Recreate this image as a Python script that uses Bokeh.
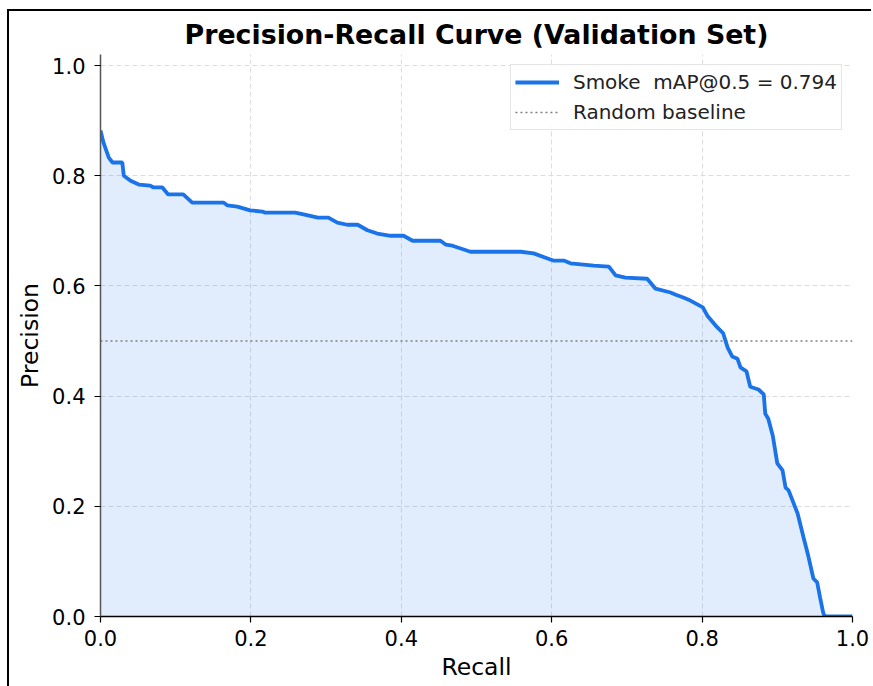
from bokeh.plotting import figure
from bokeh.layouts import column
from bokeh.models import Range1d, FixedTicker, NumeralTickFormatter, Legend, LegendItem
from bokeh.embed import file_html
from bokeh.resources import INLINE

# Data
recall = [0.000, 0.004, 0.011, 0.016, 0.029, 0.031, 0.040, 0.051, 0.066, 0.070,
          0.082, 0.090, 0.110, 0.122, 0.164, 0.169, 0.182, 0.199, 0.215, 0.219,
          0.259, 0.270, 0.289, 0.303, 0.315, 0.328, 0.342, 0.355, 0.368, 0.386,
          0.403, 0.415, 0.452, 0.459, 0.468, 0.479, 0.492, 0.559, 0.576, 0.602,
          0.616, 0.625, 0.656, 0.676, 0.685, 0.698, 0.727, 0.738, 0.758, 0.765,
          0.775, 0.782, 0.801, 0.807, 0.818, 0.828, 0.834, 0.840, 0.847, 0.851,
          0.859, 0.864, 0.875, 0.882, 0.884, 0.888, 0.894, 0.900, 0.907, 0.911,
          0.915, 0.927, 0.935, 0.941, 0.948, 0.953, 0.957, 0.961, 0.963, 1.000]
precision = [0.882, 0.860, 0.833, 0.824, 0.824, 0.800, 0.791, 0.784, 0.782, 0.779,
             0.779, 0.766, 0.766, 0.751, 0.751, 0.746, 0.744, 0.737, 0.735, 0.733,
             0.733, 0.730, 0.724, 0.724, 0.715, 0.711, 0.711, 0.701, 0.695, 0.691,
             0.691, 0.682, 0.682, 0.675, 0.673, 0.668, 0.662, 0.662, 0.659, 0.646,
             0.646, 0.641, 0.637, 0.635, 0.619, 0.615, 0.613, 0.595, 0.588, 0.584,
             0.579, 0.575, 0.561, 0.546, 0.528, 0.514, 0.488, 0.472, 0.468, 0.452,
             0.445, 0.417, 0.412, 0.403, 0.368, 0.359, 0.328, 0.278, 0.265, 0.234,
             0.229, 0.187, 0.143, 0.111, 0.069, 0.062, 0.034, 0.007, 0.000, 0.000]
baseline_x = [0.0, 1.0]
baseline_y = [0.5, 0.5]
ticks = [0.0, 0.2, 0.4, 0.6, 0.8, 1.0]
series_label = "Smoke  mAP@0.5 = 0.794"
baseline_label = "Random baseline"

FONT = "DejaVu Sans"
BLUE = "#1a73e8"

p = figure(width=862, height=675, output_backend="svg", toolbar_location=None,
           x_range=Range1d(0, 1.0), y_range=Range1d(0, 1.02),
           title="Precision-Recall Curve (Validation Set)",
           x_axis_label="Recall", y_axis_label="Precision",
           min_border_left=91, min_border_right=19, min_border_top=42,
           min_border_bottom=70)

p.title.text_font = FONT
p.title.text_font_size = "26.8px"
p.title.text_font_style = "bold"
p.title.align = "center"
p.title.text_color = "black"

p.outline_line_color = None
p.background_fill_color = "white"
p.border_fill_color = "white"

for ax in (p.xaxis[0], p.yaxis[0]):
    ax.ticker = FixedTicker(ticks=ticks)
    ax.formatter = NumeralTickFormatter(format="0.0")
    ax.major_label_text_font = FONT
    ax.major_label_text_font_size = "21px"
    ax.major_label_text_color = "black"
    ax.axis_label_text_font = FONT
    ax.axis_label_text_font_size = "23.5px"
    ax.axis_label_text_font_style = "normal"
    ax.axis_label_text_color = "black"
    ax.major_tick_out = 6
    ax.major_tick_in = 0
    ax.minor_tick_out = 0
    ax.minor_tick_in = 0
    ax.major_tick_line_color = "black"
    ax.major_tick_line_width = 1.2
    ax.axis_line_width = 1.5

p.xaxis[0].axis_line_color = "black"
p.yaxis[0].axis_line_color = "#555555"
p.xaxis[0].major_label_standoff = 7
p.yaxis[0].major_label_standoff = 9
p.xaxis[0].axis_label_standoff = 4
p.yaxis[0].axis_label_standoff = 5

for g in (p.xgrid[0], p.ygrid[0]):
    g.ticker = FixedTicker(ticks=ticks)
    g.grid_line_color = "#dcdcdc"
    g.grid_line_dash = "5 3"
    g.grid_line_width = 1

p.varea(x=recall, y1=0, y2=precision, fill_color=BLUE, fill_alpha=0.13)
r_base = p.line(baseline_x, baseline_y, line_color="#808080", line_width=1.3,
                line_dash="2 3")
r_curve = p.line(recall, precision, line_color=BLUE, line_width=3.8)

legend = Legend(items=[LegendItem(label=series_label, renderers=[r_curve]),
                       LegendItem(label=baseline_label, renderers=[r_base])],
                location="top_right")
legend.label_text_font = FONT
legend.label_text_font_size = "20px"
legend.label_text_color = "#222222"
legend.border_line_color = "#cccccc"
legend.border_line_width = 1
legend.background_fill_alpha = 0.9
legend.glyph_width = 44
legend.glyph_height = 26
legend.label_standoff = 14
legend.padding = 4
legend.spacing = 4
legend.margin = 10
p.add_layout(legend)

layout = column(p, styles={"margin-left": "7px", "margin-top": "9px",
                           "border-left": "2px solid black",
                           "border-top": "2px solid black"})

open("out.html", "w").write(file_html(layout, INLINE))
